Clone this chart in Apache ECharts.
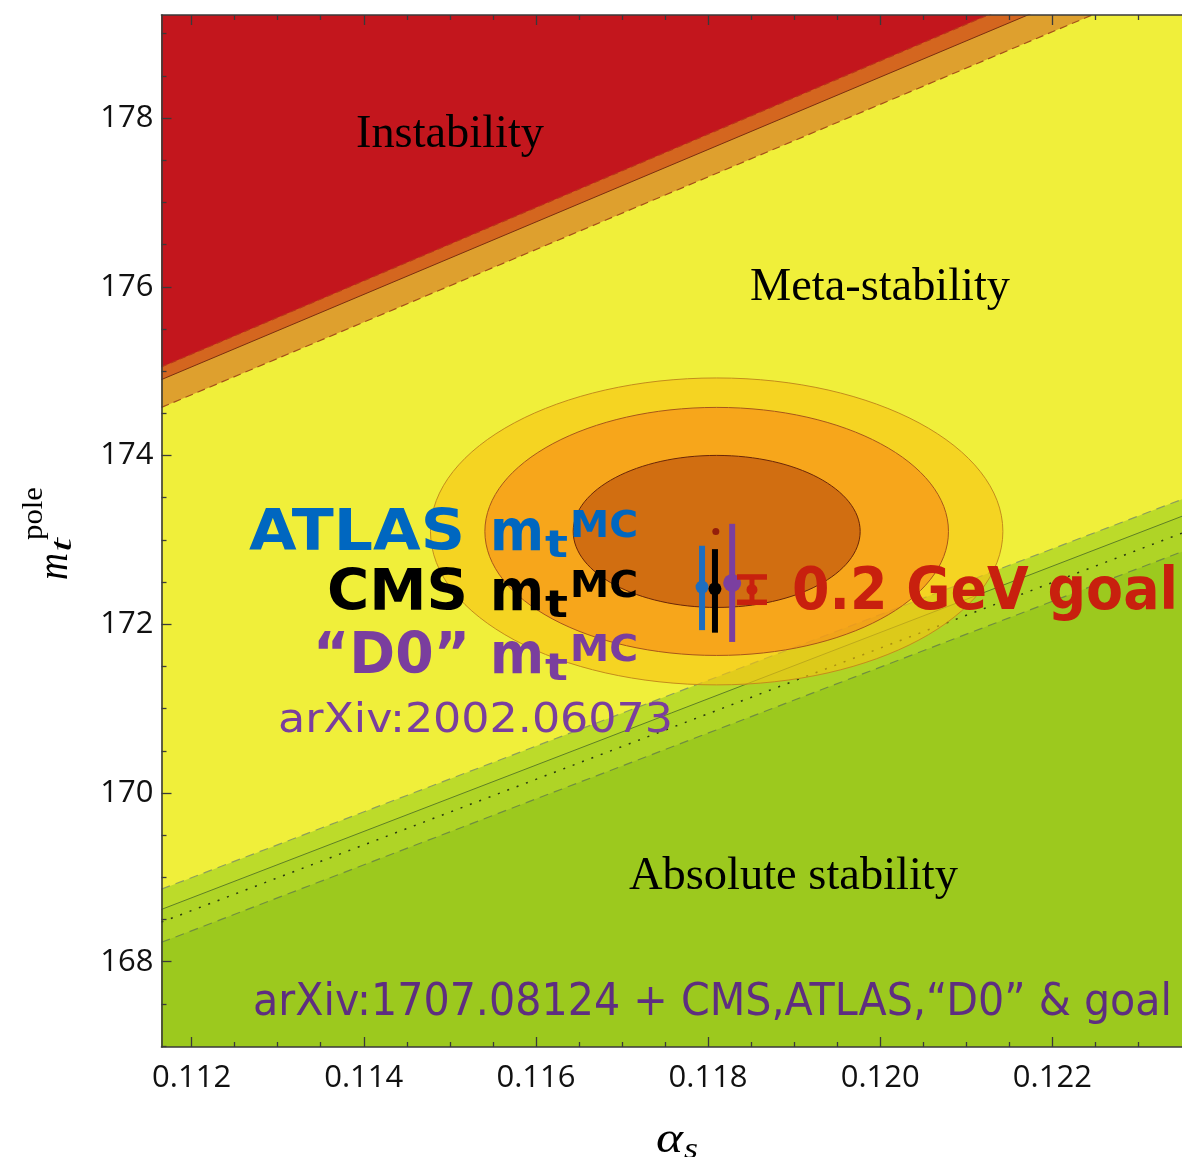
<!DOCTYPE html>
<html><head><meta charset="utf-8">
<script src="https://cdn.jsdelivr.net/npm/echarts@6/dist/echarts.min.js"></script>
<style>html,body{margin:0;padding:0;background:#fff}#c{width:1182px;height:1157px}</style>
</head><body><div id="c"></div>
<script>
// ---------------- data ----------------
const xMajorTicks = [0.112, 0.114, 0.116, 0.118, 0.120, 0.122];
const xMinorTicks = [0.1125, 0.1130, 0.1135, 0.1145, 0.1150, 0.1155, 0.1165, 0.1170, 0.1175,
                     0.1185, 0.1190, 0.1195, 0.1205, 0.1210, 0.1215, 0.1225, 0.1230];
const yMajorTicks = [168, 170, 172, 174, 176, 178];
const yMinorTicks = [167, 167.5, 168.5, 169, 169.5, 170.5, 171, 171.5, 172.5, 173, 173.5,
                     174.5, 175, 175.5, 176.5, 177, 177.5, 178.5, 179];
const X_MIN = 0.11165, X_MAX = 0.123506, Y_MIN = 166.989, Y_MAX = 179.221;

// phase boundaries: value of m_t at the two ends of the alpha_s range
const boundaryAlpha      = [0.11165, 0.123506];
const instabilityUpper   = [175.05, 180.20];
const instabilityCentral = [174.90, 179.99];
const instabilityLower   = [174.57, 179.67];
const stabilityUpper     = [168.86, 173.48];
const stabilityCentral   = [168.62, 173.28];
const stabilityDotted    = [168.47, 173.08];
const stabilityLower     = [168.23, 172.86];

// fit ellipses (outer -> inner)
const ellipseCenterAlpha = [0.11810, 0.11810, 0.11810];
const ellipseCenterMt    = [173.10, 173.10, 173.10];
const ellipseHalfAlpha   = [0.003325, 0.002693, 0.001667];
const ellipseHalfMt      = [1.819, 1.470, 0.901];

// measurements (ATLAS, CMS, "D0")
const measNames = ['ATLAS', 'CMS', 'D0'];
const measAlpha = [0.11793, 0.11808, 0.11828];
const measMt    = [172.44, 172.42, 172.49];
const measLow   = [171.93, 171.90, 171.79];
const measHigh  = [172.93, 172.89, 173.19];

// 0.2 GeV goal
const goalAlpha = [0.11851];
const goalMt    = [172.41];
const goalLow   = [172.26];
const goalHigh  = [172.56];

// central value marker
const centralAlpha = [0.11809];
const centralMt    = [173.10];

// ---------------- styles ----------------
const C_YELLOW = '#F0EF3A';
const ellipseFill   = ['rgba(248,196,20,0.62)', 'rgba(247,143,24,0.66)', 'rgba(190,80,12,0.66)'];
const ellipseStroke = ['#C48C1C', '#A8561A', '#6A2608'];
const measColor = ['#1D6EC0', '#000000', '#7B3FA0'];
const measDot   = [6.5, 6.5, 9];

function regionSeries(line, dir, color) {
  return {
    type: 'custom', clip: true, z: 1, silent: true, animation: false,
    data: [[boundaryAlpha[0], line[0], boundaryAlpha[1], line[1]]],
    renderItem(params, api) {
      const p0 = api.coord([api.value(0), api.value(1)]);
      const p1 = api.coord([api.value(2), api.value(3)]);
      const r = params.coordSys;
      const far = dir > 0 ? r.y - 300 : r.y + r.height + 300;
      return { type: 'polygon', shape: { points: [p0, p1, [p1[0], far], [p0[0], far]] }, style: { fill: color } };
    }
  };
}
function boundaryLine(vals, color, type, width) {
  return {
    type: 'line', z: 2, silent: true, animation: false, symbol: 'none', showSymbol: false,
    data: boundaryAlpha.map((a, i) => [a, vals[i]]),
    lineStyle: { color, type, width }
  };
}

const series = [
  regionSeries(instabilityLower, 1, '#DEA02E'),
  regionSeries(instabilityCentral, 1, '#D4661F'),
  regionSeries(instabilityUpper, 1, '#C3161D'),
  regionSeries(stabilityUpper, -1, '#BCDB2A'),
  regionSeries(stabilityCentral, -1, '#AFD426'),
  regionSeries(stabilityLower, -1, '#9CC91E'),
  boundaryLine(instabilityUpper, '#B8361A', [6, 4], 1.2),
  boundaryLine(instabilityCentral, '#7A2E10', 'solid', 1),
  boundaryLine(instabilityLower, '#A4501A', [8, 5], 1.2),
  boundaryLine(stabilityUpper, '#8C9E5C', [9, 6], 1.2),
  boundaryLine(stabilityCentral, '#5E7F25', 'solid', 1),
  boundaryLine(stabilityDotted, '#2B3A10', [2, 8], 1.5),
  boundaryLine(stabilityLower, '#708E40', [9, 6], 1.2),
  {
    type: 'custom', z: 3, silent: true, animation: false,
    data: ellipseCenterAlpha.map((a, i) => [a, ellipseCenterMt[i], ellipseHalfAlpha[i], ellipseHalfMt[i]]),
    renderItem(params, api) {
      const c = api.coord([api.value(0), api.value(1)]);
      const s = api.size([api.value(2), api.value(3)]);
      const i = params.dataIndex;
      return { type: 'ellipse', shape: { cx: c[0], cy: c[1], rx: s[0], ry: s[1] },
        style: { fill: ellipseFill[i], stroke: ellipseStroke[i], lineWidth: 1 } };
    }
  },
  {
    type: 'scatter', z: 4, silent: true, animation: false, symbolSize: 7,
    itemStyle: { color: '#850A0A' },
    data: centralAlpha.map((a, i) => [a, centralMt[i]])
  },
  {
    type: 'custom', z: 5, silent: true, animation: false,
    data: measAlpha.map((a, i) => [a, measMt[i], measLow[i], measHigh[i]]),
    renderItem(params, api) {
      const i = params.dataIndex;
      const a = api.value(0);
      const top = api.coord([a, api.value(3)]);
      const bot = api.coord([a, api.value(2)]);
      const mid = api.coord([a, api.value(1)]);
      return { type: 'group', children: [
        { type: 'line', shape: { x1: top[0], y1: top[1], x2: bot[0], y2: bot[1] }, style: { stroke: measColor[i], lineWidth: 6 } },
        { type: 'circle', shape: { cx: mid[0], cy: mid[1], r: measDot[i] }, style: { fill: measColor[i] } }
      ] };
    }
  },
  {
    type: 'custom', z: 5, silent: true, animation: false,
    data: goalAlpha.map((a, i) => [a, goalMt[i], goalLow[i], goalHigh[i]]),
    renderItem(params, api) {
      const a = api.value(0);
      const top = api.coord([a, api.value(3)]);
      const bot = api.coord([a, api.value(2)]);
      const mid = api.coord([a, api.value(1)]);
      const col = '#C8200E', hw = 15;
      return { type: 'group', children: [
        { type: 'line', shape: { x1: top[0], y1: top[1], x2: bot[0], y2: bot[1] }, style: { stroke: col, lineWidth: 5 } },
        { type: 'line', shape: { x1: top[0] - hw, y1: top[1], x2: top[0] + hw, y2: top[1] }, style: { stroke: col, lineWidth: 5.5 } },
        { type: 'line', shape: { x1: bot[0] - hw, y1: bot[1], x2: bot[0] + hw, y2: bot[1] }, style: { stroke: col, lineWidth: 5.5 } },
        { type: 'circle', shape: { cx: mid[0], cy: mid[1], r: 5.5 }, style: { fill: col } }
      ] };
    }
  }
];

// ---------------- texts ----------------
const mctx = document.createElement('canvas').getContext('2d');
function makeText(t) {
  const fam = t.fam, w = t.w || 'normal', st = t.st || 'normal';
  mctx.font = st + ' ' + w + ' ' + t.size + 'px ' + fam;
  const mw = mctx.measureText(t.text).width;
  const sx = t.width ? t.width / mw : 1;
  const rot = t.rot || 0;
  return {
    type: 'text', x: t.x + (rot ? 3 : 0), y: t.y + (rot ? 0 : 3.5), rotation: rot, scaleX: sx, z: 100, silent: true,
    style: { text: t.text, fontFamily: fam, fontSize: t.size, fontWeight: w, fontStyle: st, fill: t.color || '#000',
      align: t.align || 'left', verticalAlign: 'middle', textAlign: t.align || 'left', textVerticalAlign: 'middle' }
  };
}
const SERIF = '"Liberation Serif"', SANS = '"DejaVu Sans"', SANS2 = '"DejaVu Sans"';
const BLUE = '#0067C0', PURPLE = '#7A3E9E', DPURPLE = '#5E2E80', RED = '#C8200E';
const texts = [
  { text: 'Instability', fam: SERIF, size: 47, x: 356, y: 131, width: 188 },
  { text: 'Meta-stability', fam: SERIF, size: 47, x: 750, y: 284, width: 260 },
  { text: 'Absolute stability', fam: SERIF, size: 47, x: 629, y: 873, width: 329 },
  // ATLAS line
  { text: 'ATLAS', fam: SANS, w: 'bold', size: 57, color: BLUE, x: 465, y: 532, align: 'right', width: 216 },
  { text: 'm', fam: SANS, w: 'bold', size: 57, color: BLUE, x: 490, y: 532, width: 54 },
  { text: 't', fam: SANS, w: 'bold', size: 38, color: BLUE, x: 545, y: 544, width: 23 },
  { text: 'MC', fam: SANS, w: 'bold', size: 38, color: BLUE, x: 570, y: 524, width: 68 },
  // CMS line
  { text: 'CMS', fam: SANS, w: 'bold', size: 57, color: '#000', x: 468, y: 592, align: 'right', width: 141 },
  { text: 'm', fam: SANS, w: 'bold', size: 57, color: '#000', x: 490, y: 592, width: 54 },
  { text: 't', fam: SANS, w: 'bold', size: 38, color: '#000', x: 545, y: 604, width: 23 },
  { text: 'MC', fam: SANS, w: 'bold', size: 38, color: '#000', x: 570, y: 584, width: 68 },
  // D0 line
  { text: '\u201CD0\u201D', fam: SANS, w: 'bold', size: 57, color: PURPLE, x: 470, y: 655, align: 'right', width: 157 },
  { text: 'm', fam: SANS, w: 'bold', size: 57, color: PURPLE, x: 490, y: 655, width: 54 },
  { text: 't', fam: SANS, w: 'bold', size: 38, color: PURPLE, x: 545, y: 667, width: 23 },
  { text: 'MC', fam: SANS, w: 'bold', size: 38, color: PURPLE, x: 570, y: 648, width: 68 },
  { text: 'arXiv:2002.06073', fam: SANS2, size: 41, color: PURPLE, x: 278, y: 718, width: 395 },
  { text: '0.2 GeV goal', fam: SANS, w: 'bold', size: 58, color: RED, x: 792, y: 590, width: 386 },
  { text: 'arXiv:1707.08124 + CMS,ATLAS,\u201CD0\u201D & goal', fam: SANS2, size: 45, color: DPURPLE, x: 253, y: 1000, width: 919 },
  // axis titles
  { text: '\u03B1', fam: SERIF, st: 'italic', size: 44, x: 656, y: 1137, width: 27 },
  { text: 's', fam: SERIF, st: 'italic', size: 30, x: 684, y: 1147, width: 14 },
  { text: 'm', fam: SERIF, st: 'italic', size: 44, x: 52, y: 580, width: 27, rot: Math.PI / 2 },
  { text: 't', fam: SERIF, st: 'italic', size: 30, x: 60, y: 552, width: 14, rot: Math.PI / 2 },
  { text: 'pole', fam: SERIF, size: 30, x: 31, y: 540, width: 53, rot: Math.PI / 2 }
];

// ---------------- axes ----------------
const AX = '#3a3a3a';
function xAx(pos, ticks, len, showLine, showLabel) {
  return {
    type: 'value', position: pos, min: X_MIN, max: X_MAX, z: 20,
    splitLine: { show: false },
    axisLine: { show: showLine, onZero: false, lineStyle: { color: AX, width: 1.6 } },
    axisTick: { show: true, inside: true, length: len, customValues: ticks, lineStyle: { color: AX, width: 1.3 } },
    axisLabel: showLabel ? { customValues: ticks, formatter: v => v.toFixed(3), fontFamily: 'Open Sans', fontSize: 31, color: '#111', margin: 16 } : { show: false }
  };
}
function yAx(pos, ticks, len, showLine, showLabel) {
  return {
    type: 'value', position: pos, min: Y_MIN, max: Y_MAX, z: 20,
    splitLine: { show: false },
    axisLine: { show: showLine, onZero: false, lineStyle: { color: AX, width: 1.6 } },
    axisTick: { show: true, inside: true, length: len, customValues: ticks, lineStyle: { color: AX, width: 1.3 } },
    axisLabel: showLabel ? { customValues: ticks, formatter: v => String(Math.round(v)), fontFamily: 'Open Sans', fontSize: 31, color: '#111', margin: 8 } : { show: false }
  };
}

const chart = echarts.init(document.getElementById('c'), null, { renderer: 'canvas' });
chart.setOption({
  animation: false,
  backgroundColor: '#ffffff',
  grid: { left: 161.5, right: 0, top: 15, bottom: 110, show: true, backgroundColor: C_YELLOW, borderWidth: 0 },
  xAxis: [
    xAx('bottom', xMajorTicks, 10, true, true),
    xAx('bottom', xMinorTicks, 5, false, false),
    xAx('top', xMajorTicks, 10, true, false),
    xAx('top', xMinorTicks, 5, false, false)
  ],
  yAxis: [
    yAx('left', yMajorTicks, 10, true, true),
    yAx('left', yMinorTicks, 5, false, false)
  ],
  series: series.map(s => Object.assign({ xAxisIndex: 0, yAxisIndex: 0 }, s)),
  graphic: texts.map(makeText)
});
</script>
</body></html>
